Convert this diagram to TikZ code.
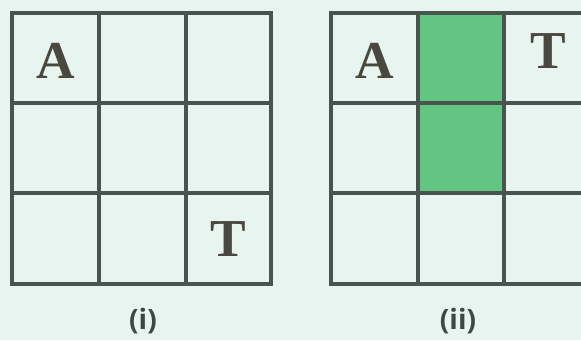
\documentclass[tikz,border=0pt]{standalone}
\usepackage{fontspec}
\setmainfont{Liberation Serif}
\newfontfamily\labfont{Open Sans}
\definecolor{bg}{RGB}{232,244,240}
\definecolor{gridc}{RGB}{74,84,79}
\definecolor{cellgreen}{RGB}{98,197,130}
\definecolor{letterc}{RGB}{72,72,62}
\definecolor{labc}{RGB}{60,72,68}
\tikzset{
  gridline/.style={draw=gridc, line width=3.5pt, line cap=rect},
  letter/.style={font=\fontsize{40}{40}\selectfont\bfseries, text=letterc, inner sep=0pt},
  caption/.style={font=\labfont\bfseries\fontsize{21}{21}\selectfont, text=labc, inner sep=0pt}
}
\begin{document}
\begin{tikzpicture}[x=0.75pt,y=-0.75pt]
\useasboundingbox (0,0) rectangle (581,340);
\clip (0,0) rectangle (581,340);
\fill[bg] (0,0) rectangle (581,340);
% right grid green cells
\fill[cellgreen] (418,13) rectangle (504,193);
% left grid
\foreach \x in {12,99,186,271} \draw[gridline] (\x,13) -- (\x,284);
\foreach \y in {13,103,193,284} \draw[gridline] (12,\y) -- (271,\y);
% right grid
\foreach \x in {331,418,504,590} \draw[gridline] (\x,13) -- (\x,284);
\foreach \y in {13,103,193,284} \draw[gridline] (331,\y) -- (590,\y);
% letters
\node[letter] (a1) at (56,61) {A};
\node[letter] (t1) at (228,239) {T};
\node[letter] (a2) at (375,61) {A};
\node[letter] (t2) at (548,51) {T};
% captions
\node[caption] (c1) at (143,321) {(i)};
\node[caption] (c2) at (458,321) {(ii)};
\end{tikzpicture}
\end{document}
